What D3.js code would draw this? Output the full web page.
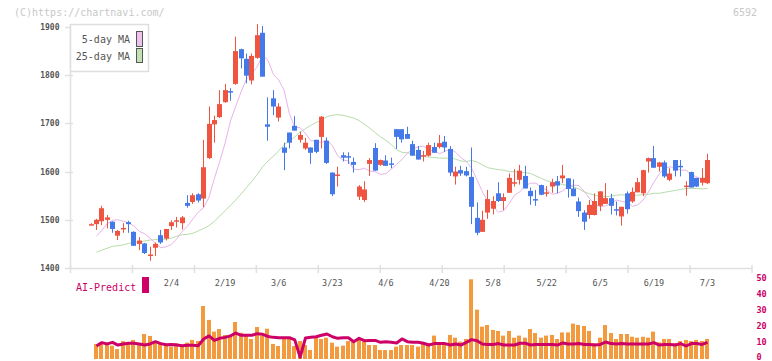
<!DOCTYPE html>
<html>
<head>
<meta charset="utf-8">
<script src="https://cdn.jsdelivr.net/npm/d3@7"></script>
<style>
  body { margin: 0; background: #fff; }
  svg { display: block; }
</style>
</head>
<body>
<div id="chart"></div>
<script>
// daily prices, one entry per trading day (index 0 .. 115)
const opens = [1490,1491,1497,1500,1496,1467,1482,1495,1475,1450,1451,1427,1442,1468,1461,1487,1498,1493,1535,1537,
  1553,1544,1628,1698,1713,1744,1767,1782,1854,1834,1789,1836,1888,1698,1752,1712,1650,1681,1695,1666,
  1648,1650,1666,1672,1664,1598,1593,1634,1632,1620,1548,1541,1616,1649,1614,1623,1617,1688,1688,1678,
  1657,1645,1633,1633,1651,1651,1662,1647,1590,1603,1601,1589,1504,1475,1515,1523,1555,1539,1556,1577,
  1583,1591,1560,1543,1572,1556,1569,1580,1586,1586,1565,1538,1515,1510,1510,1529,1533,1545,1522,1507,
  1555,1538,1557,1555,1621,1628,1610,1619,1583,1624,1612,1570,1599,1587,1577,1576];
const highs = [1493,1502,1529,1510,1497,1479,1493,1498,1476,1464,1452,1444,1453,1479,1481,1499,1506,1508,1551,1555,
  1555,1666,1735,1716,1769,1782,1773,1880,1855,1845,1845,1906,1902,1754,1769,1742,1660,1681,1715,1683,
  1670,1650,1666,1715,1671,1598,1610,1640,1640,1629,1572,1580,1628,1659,1625,1634,1629,1688,1688,1693,
  1664,1653,1643,1660,1660,1676,1674,1653,1610,1612,1610,1650,1536,1519,1562,1549,1578,1555,1596,1605,
  1614,1612,1567,1562,1573,1570,1585,1591,1614,1586,1584,1546,1520,1541,1555,1559,1576,1554,1538,1527,
  1559,1567,1587,1604,1629,1653,1620,1623,1607,1624,1624,1580,1600,1587,1607,1637];
const lows = [1490,1479,1489,1482,1473,1458,1473,1473,1446,1437,1429,1415,1425,1450,1457,1479,1484,1480,1525,1533,
  1536,1526,1626,1660,1711,1743,1747,1780,1814,1783,1781,1834,1797,1664,1717,1704,1603,1648,1685,1660,
  1645,1616,1638,1648,1616,1549,1569,1621,1616,1598,1541,1537,1591,1602,1612,1612,1607,1647,1660,1668,
  1633,1625,1621,1631,1639,1648,1641,1591,1573,1591,1590,1491,1468,1475,1502,1511,1537,1520,1556,1569,
  1573,1565,1531,1529,1551,1548,1556,1555,1576,1546,1549,1506,1479,1502,1509,1518,1533,1511,1509,1488,
  1513,1535,1557,1549,1598,1608,1600,1587,1580,1590,1590,1550,1567,1568,1571,1574];
const closes = [1491,1500,1524,1505,1481,1477,1483,1491,1446,1457,1431,1428,1450,1453,1481,1495,1499,1505,1529,1551,
  1540,1609,1699,1707,1740,1769,1765,1850,1835,1799,1840,1883,1797,1693,1735,1735,1639,1660,1685,1676,
  1660,1639,1641,1714,1618,1553,1594,1629,1629,1614,1569,1563,1624,1602,1624,1612,1615,1672,1667,1668,
  1633,1625,1634,1655,1639,1659,1650,1598,1600,1596,1592,1527,1473,1500,1543,1539,1539,1547,1587,1578,
  1602,1565,1549,1540,1552,1557,1578,1571,1592,1564,1549,1518,1496,1531,1539,1559,1545,1529,1519,1527,
  1522,1558,1578,1603,1628,1608,1619,1590,1596,1602,1609,1571,1567,1569,1587,1624];

// moving averages as drawn
const ma5 = [null,1466,1478,1492,1499,1500,1497,1494,1487,1476,1471,1462,1451,1442,1444,1449,1461,1476,1487,1502,
  1516,1525,1547,1586,1621,1659,1705,1736,1766,1792,1804,1818,1841,1831,1802,1790,1769,1720,1692,1691,
  1679,1664,1664,1660,1666,1654,1633,1624,1622,1605,1604,1607,1601,1600,1594,1596,1605,1615,1625,1638,
  1647,1651,1653,1645,1643,1637,1642,1647,1640,1629,1621,1607,1583,1558,1538,1527,1516,1519,1534,1551,
  1558,1571,1576,1576,1567,1562,1553,1555,1560,1570,1572,1571,1559,1544,1532,1527,1529,1534,1541,1538,
  1536,1528,1531,1541,1558,1578,1595,1607,1610,1608,1603,1603,1594,1589,1584,1581];
const ma25 = [null,1433,1437,1441,1445,1446,1448,1451,1453,1454,1456,1458,1459,1459,1460,1462,1466,1469,1470,1472,
  1477,1482,1488,1497,1508,1519,1530,1541,1554,1567,1580,1594,1610,1622,1632,1643,1656,1664,1672,1682,
  1689,1696,1702,1707,1714,1717,1718,1717,1714,1711,1706,1698,1690,1681,1672,1665,1656,1645,1640,1639,
  1636,1632,1631,1630,1629,1628,1628,1628,1626,1622,1621,1623,1620,1614,1608,1606,1604,1603,1600,1600,
  1598,1598,1596,1591,1586,1581,1578,1576,1573,1571,1568,1564,1558,1554,1551,1549,1548,1549,1551,1552,
  1551,1550,1551,1552,1553,1555,1555,1557,1559,1561,1563,1565,1565,1565,1564,1565];

// volume panel
const volumes = [null,8.8,9.8,8.8,7.7,5.6,10.6,8.8,11.3,8.8,15,13.8,10.2,9.6,8.1,7.1,9.2,7.1,9.6,11.3,
  10.6,32.5,23.8,16.5,18.1,14.4,14,22.5,15.8,14,11.9,19.4,14,18.3,8.8,7.5,11.9,11.9,7.5,10.6,
  8.1,5,12.7,11.9,12.7,9.6,7.1,7.7,10.6,10.6,11.9,10.6,8.1,8.1,5,5,5,7.1,8.1,8.1,
  8.1,7.1,9.2,9.2,14,9.2,9.2,14.4,12.7,10.2,11.9,49.2,30.2,19.6,20.6,17.5,16.9,14,16.9,12.7,
  14,12.7,18.1,15.6,12.7,14,14.4,11.9,16,16,21.5,20.6,20,16.9,9.2,12.7,20.6,15.6,11.9,15,
  15,13.3,12.7,13.3,12.7,16.5,9.8,11.9,11.9,9.2,10.6,11.3,10.6,11.3,10.6,11.9];
const aiPredict = [null,7.5,9.6,8.8,9.8,8.1,8.8,9.2,9.2,8.8,8.1,8.8,10.2,9,8.3,8.5,8.1,7.7,7.9,7.9,
  7.7,11.9,13.8,11,12.3,12.9,13.8,15.6,14.2,14.2,14.2,15.2,14.8,13.5,12.9,12.7,12.7,12.7,11.3,0.5,
  12.5,12.9,13.3,14.2,15,13.3,12.3,12.7,12.7,10.2,12.3,10.8,11,11,9.8,10.2,9.8,9.4,11.9,10.2,
  9.8,9.8,9.2,8.1,9,9,9,8.1,8.8,8.1,9.8,11.5,10.8,8.8,8.5,8.5,9,8.1,8.1,8.1,
  9.2,9.2,8.1,8.5,8.5,8.5,8.5,8.1,9.4,8.8,8.8,9,8.5,8.5,8.1,8.5,10,9,8.8,9,
  8.8,8.8,8.8,8.8,8.8,9.6,8.1,8.5,8.5,8.1,9,7.5,9,9,8.5,9.8];

const dateLabels = ['2/4','2/19','3/6','3/23','4/6','4/20','5/8','5/22','6/5','6/19','7/3'];
const dateIndex = [15,25,35,45,55,65,75,85,95,105,115];
const priceTicks = [1400,1500,1600,1700,1800,1900];
const volumeTicks = [0,10,20,30,40,50];

const width = 772, height = 361;
const mono = "'DejaVu Sans Mono', 'Liberation Mono', monospace";
const UP = '#ef5441', DOWN = '#4479ea', AXIS = '#e0e0e0', MAGENTA = '#cc0066';

const svg = d3.select('#chart')
  .append('svg')
  .attr('width', width)
  .attr('height', height)
  .attr('viewBox', `0 0 ${width} ${height}`)
  .attr('font-family', mono);

svg.append('rect').attr('width', width).attr('height', height).attr('fill', '#fff');

const x = d3.scaleLinear().domain([0, 115]).range([91.1, 707.5]);
const y = d3.scaleLinear().domain([1400, 1900]).range([268, 27]);
const yv = d3.scaleLinear().domain([0, 50]).range([358, 278]);
const grid = d3.scaleLinear().domain([0, 11]).range([70.5, 752]);
const idx = d3.range(opens.length);

// watermark and code
svg.append('text').attr('x', 14).attr('y', 16).attr('font-size', 10)
  .attr('fill', '#c8c8c8').text('(C)https://chartnavi.com/');
svg.append('text').attr('x', 757).attr('y', 16).attr('font-size', 10)
  .attr('text-anchor', 'end').attr('fill', '#c8c8c8').text('6592');

// axes
const axis = svg.append('g').attr('stroke', AXIS).attr('stroke-width', 1.5);
axis.append('line').attr('x1', 70.5).attr('x2', 70.5).attr('y1', 24).attr('y2', 268.5);
axis.append('line').attr('x1', 70.5).attr('x2', 752).attr('y1', 268.5).attr('y2', 268.5);
axis.selectAll('.xt').data(d3.range(12)).join('line')
  .attr('x1', d => grid(d)).attr('x2', d => grid(d))
  .attr('y1', 265).attr('y2', 273);
axis.selectAll('.yt').data(priceTicks).join('line')
  .attr('x1', 65).attr('x2', 73)
  .attr('y1', d => Math.round(y(d)) + 0.5).attr('y2', d => Math.round(y(d)) + 0.5);

svg.selectAll('.plabel').data(priceTicks).join('text')
  .attr('x', 59.5).attr('y', d => y(d) + 3)
  .attr('text-anchor', 'end').attr('font-size', 8).attr('font-weight', 'bold')
  .attr('fill', '#555').text(d => d);

svg.selectAll('.dlabel').data(dateLabels).join('text')
  .attr('x', (d, i) => x(dateIndex[i])).attr('y', 285.5)
  .attr('text-anchor', 'middle').attr('font-size', 8.5)
  .attr('fill', '#555').text(d => d);

// moving averages
const maLine = d3.line()
  .defined(d => d[1] != null)
  .x(d => x(d[0])).y(d => y(d[1]));
svg.append('path').attr('d', maLine(ma25.map((v, i) => [i, v])))
  .attr('fill', 'none').attr('stroke', '#b8dcaa').attr('stroke-width', 1);
svg.append('path').attr('d', maLine(ma5.map((v, i) => [i, v])))
  .attr('fill', 'none').attr('stroke', '#e8b4e8').attr('stroke-width', 1);

// candles
const candles = svg.append('g');
idx.forEach(i => {
  const o = opens[i], c = closes[i];
  const col = c >= o ? UP : DOWN;
  const left = Math.round(x(i) - 2.5);
  candles.append('line')
    .attr('x1', left + 2.5).attr('x2', left + 2.5)
    .attr('y1', y(highs[i])).attr('y2', y(lows[i]))
    .attr('stroke', col).attr('stroke-width', 1);
  const top = y(Math.max(o, c));
  const h = Math.max(1.5, Math.abs(y(o) - y(c)));
  candles.append('rect')
    .attr('x', left).attr('y', top)
    .attr('width', 5).attr('height', h)
    .attr('fill', col);
});

// legend
const legend = svg.append('g');
legend.append('rect').attr('x', 70.5).attr('y', 24.5).attr('width', 78).attr('height', 47)
  .attr('fill', '#fff').attr('stroke', '#dedede').attr('stroke-width', 1.5);
legend.append('text').attr('x', 130).attr('y', 43).attr('text-anchor', 'end')
  .attr('font-size', 10).attr('fill', '#555').text('5-day MA');
legend.append('text').attr('x', 130).attr('y', 60).attr('text-anchor', 'end')
  .attr('font-size', 10).attr('fill', '#555').text('25-day MA');
legend.append('rect').attr('x', 136.5).attr('y', 31.5).attr('width', 6).attr('height', 15)
  .attr('fill', '#edc2ee').attr('stroke', '#555');
legend.append('rect').attr('x', 136.5).attr('y', 48.5).attr('width', 6).attr('height', 14)
  .attr('fill', '#c2e2b4').attr('stroke', '#555');

// volume panel
svg.append('text').attr('x', 76).attr('y', 290.5).attr('font-size', 10)
  .attr('fill', MAGENTA).text('AI-Predict');
svg.append('rect').attr('x', 142).attr('y', 277).attr('width', 7).attr('height', 16)
  .attr('fill', MAGENTA);

svg.append('g').selectAll('rect')
  .data(idx.filter(i => volumes[i] != null)).join('rect')
  .attr('x', i => Math.round(x(i) - 2.5))
  .attr('y', i => yv(volumes[i]))
  .attr('width', 4)
  .attr('height', i => yv(0) + 1 - yv(volumes[i]))
  .attr('fill', '#f39a3f');

const aiLine = d3.line()
  .defined(d => d[1] != null)
  .x(d => x(d[0])).y(d => yv(d[1]));
svg.append('path').attr('d', aiLine(aiPredict.map((v, i) => [i, v])))
  .attr('fill', 'none').attr('stroke', MAGENTA).attr('stroke-width', 3)
  .attr('stroke-linejoin', 'round');

svg.selectAll('.vlabel').data(volumeTicks).join('text')
  .attr('x', 756.5).attr('y', d => Math.min(yv(d) + 3, 359.5))
  .attr('font-size', 8.5).attr('font-weight', 'bold')
  .attr('fill', MAGENTA).text(d => d);
</script>
</body>
</html>
